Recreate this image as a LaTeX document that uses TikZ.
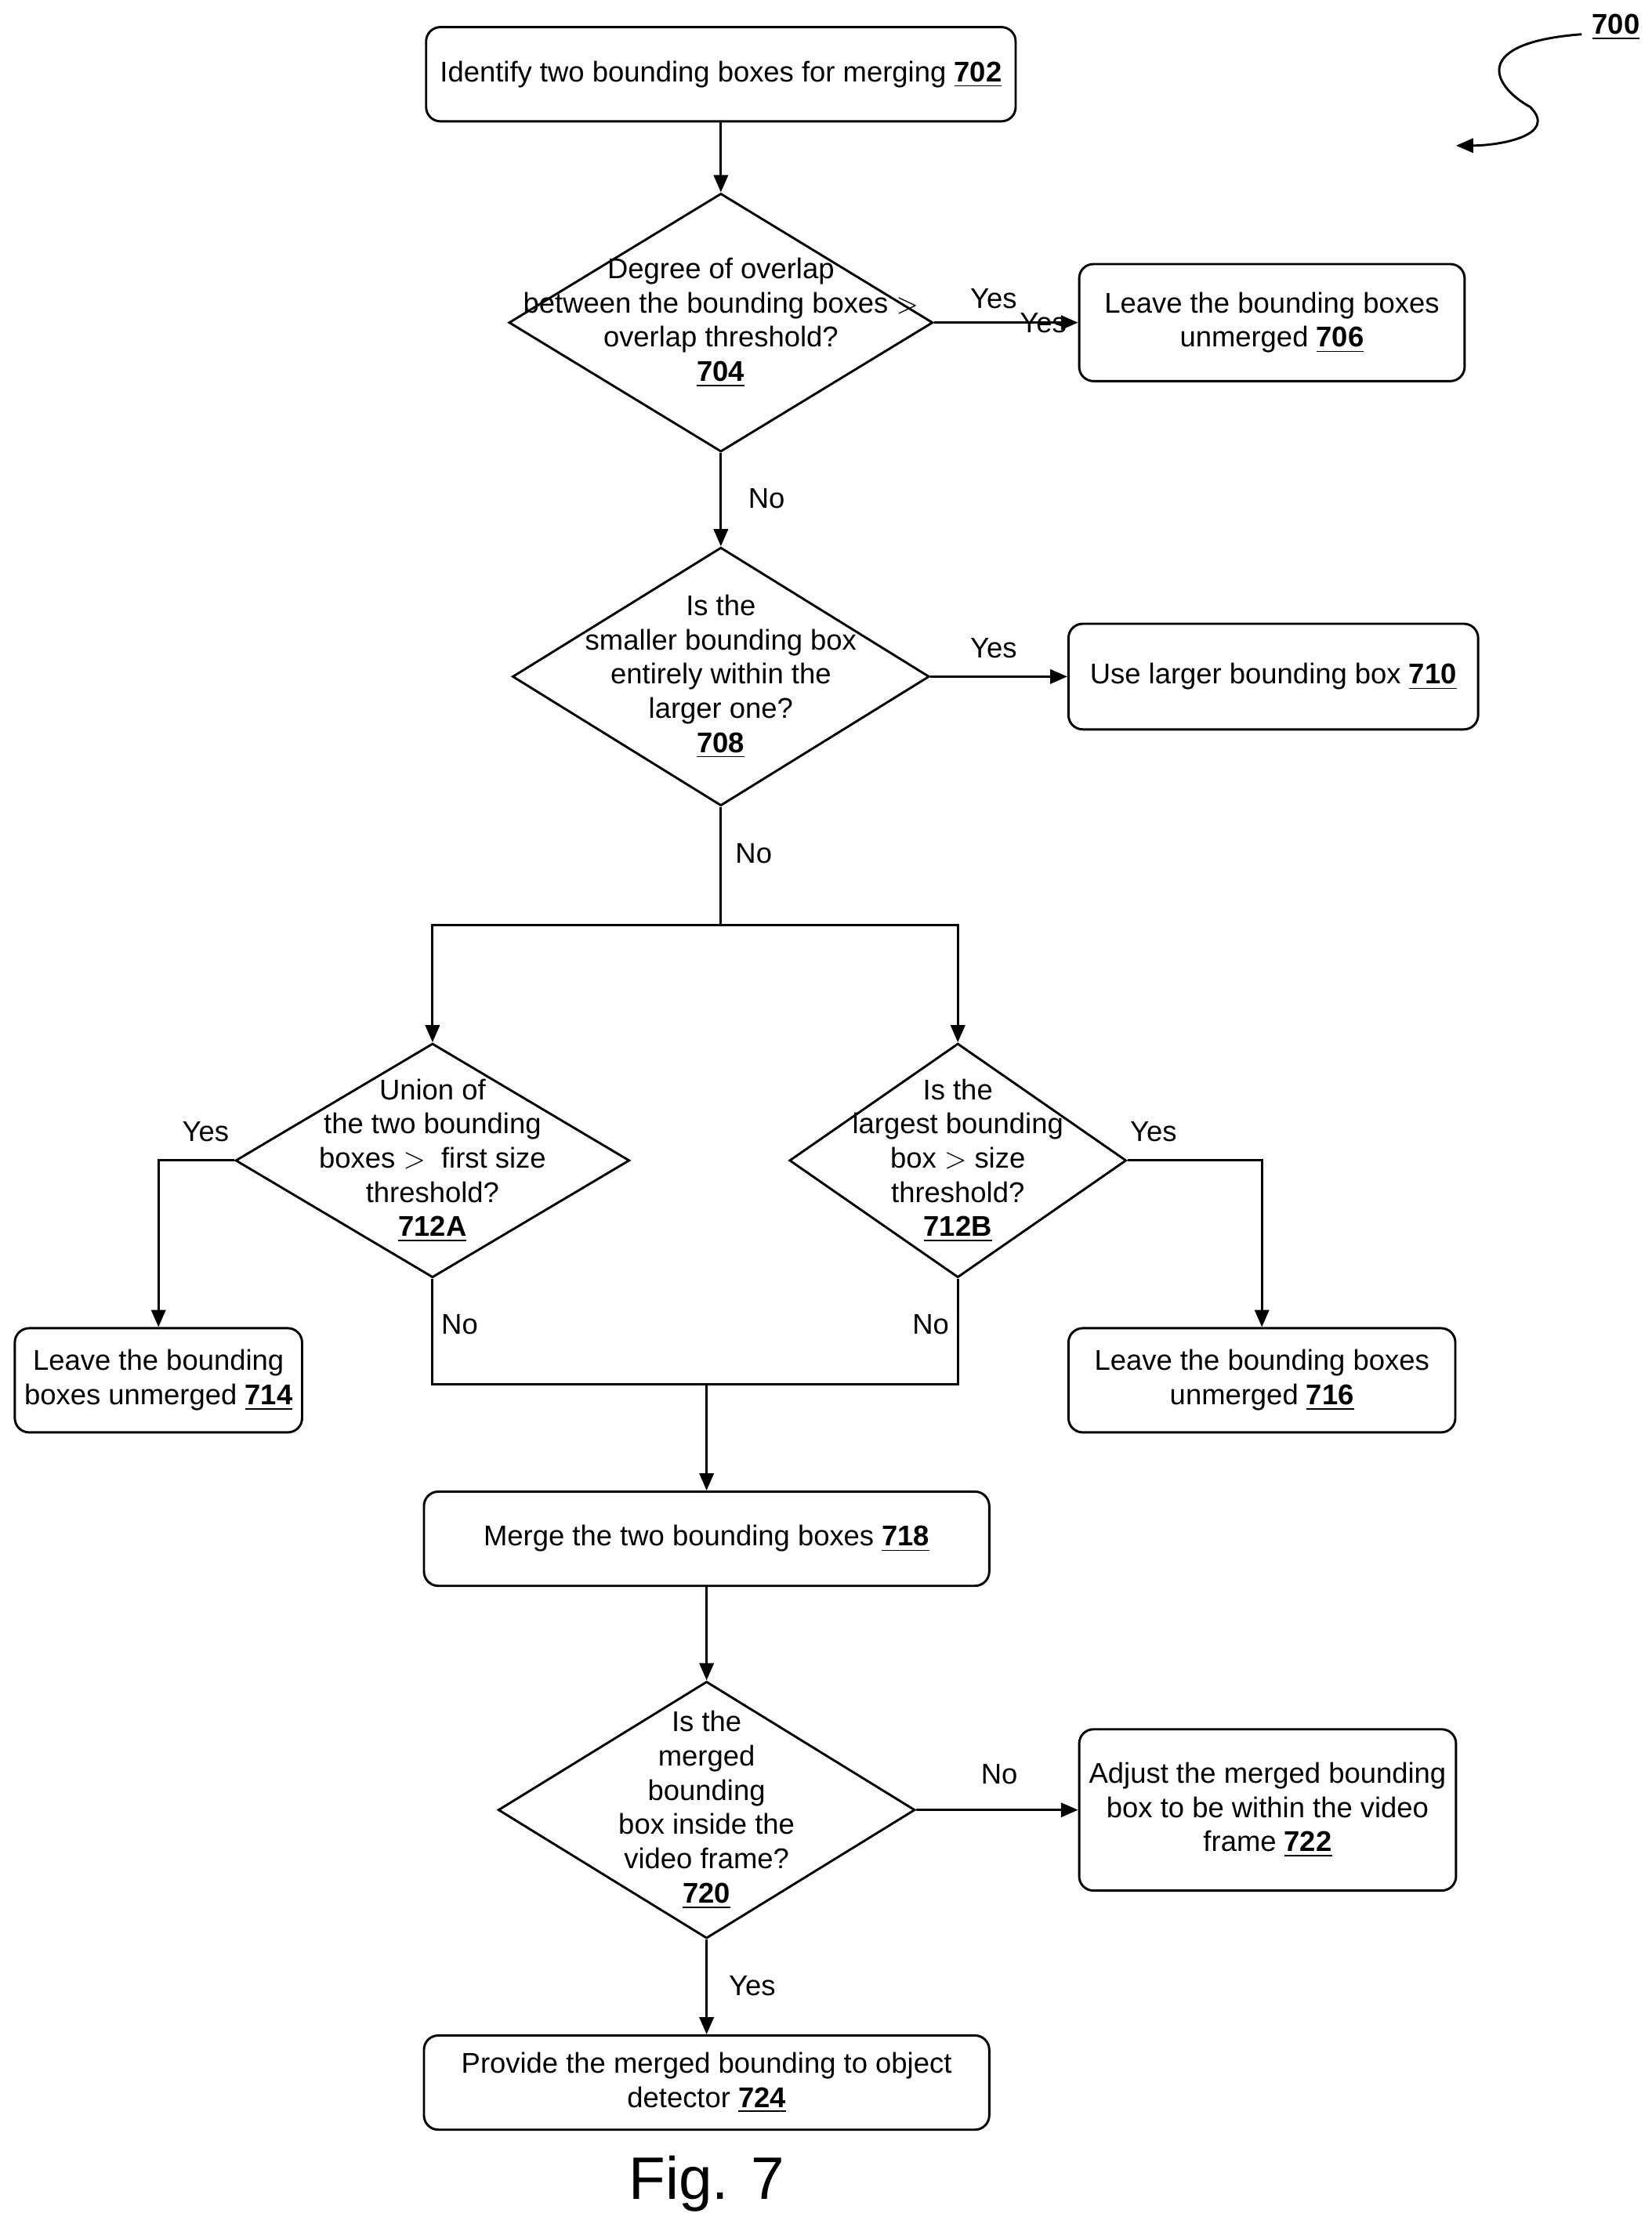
\documentclass[tikz,border=0pt]{standalone}
\usepackage{fontspec}
\setmainfont{Liberation Sans}
\usetikzlibrary{shapes.geometric,arrows.meta}
\newcommand\stepno[1]{\underline{\textbf{#1}}}

\begin{document}
\begin{tikzpicture}[x=0.5pt, y=-0.5pt, line width=0.8pt,
    font=\fontsize{10}{12}\selectfont,
    >={Triangle[length=6pt,width=5pt]},
    box/.style={draw, rounded corners=5pt, align=center},
    dec/.style={draw, diamond, inner sep=0pt},
    lab/.style={inner sep=1pt}]
    \useasboundingbox (0,0) rectangle (1157,1563);
    % Nodes
    \node [box, minimum width=206.5pt, minimum height=33pt] (b702) at (505,52) {Identify two bounding boxes for merging \stepno{702}};
    \node [dec, minimum width=148.5pt, minimum height=90.5pt] (d704) at (505,226) {};
    \node [align=center] at (d704) {Degree of overlap\\between the bounding boxes $>$\\overlap threshold?\\\stepno{704}};
    \node [box, minimum width=135pt, minimum height=41pt] (b706) at (891,226) {Leave the bounding boxes\\unmerged \stepno{706}};
    \node [dec, minimum width=146pt, minimum height=90.5pt] (d708) at (505,474) {};
    \node [align=center] at (d708) {Is the\\smaller bounding box\\entirely within the\\larger one?\\\stepno{708}};
    \node [box, minimum width=143.5pt, minimum height=37pt] (b710) at (892,474) {Use larger bounding box \stepno{710}};
    \node [dec, minimum width=138pt, minimum height=82pt] (d712a) at (303,813) {};
    \node [align=center] at (d712a) {Union of\\the two bounding\\boxes $>$\ \ first size\\threshold?\\\stepno{712A}};
    \node [dec, minimum width=118pt, minimum height=82pt] (d712b) at (671,813) {};
    \node [align=center] at (d712b) {Is the\\largest bounding\\box $>$ size\\threshold?\\\stepno{712B}};
    \node [box, minimum width=99pt, minimum height=36.5pt] (b714) at (111,967) {Leave the bounding\\boxes unmerged \stepno{714}};
    \node [box, minimum width=135.5pt, minimum height=36.5pt] (b716) at (884,967) {Leave the bounding boxes\\unmerged \stepno{716}};
    \node [box, minimum width=198pt, minimum height=33pt] (b718) at (495,1078) {Merge the two bounding boxes \stepno{718}};
    \node [dec, minimum width=146pt, minimum height=90pt] (d720) at (495,1268) {};
    \node [align=center] at (d720) {Is the\\merged\\bounding\\box inside the\\video frame?\\\stepno{720}};
    \node [box, minimum width=132pt, minimum height=56.5pt] (b722) at (888,1268) {Adjust the merged bounding\\box to be within the video\\frame \stepno{722}};
    \node [box, minimum width=198pt, minimum height=33pt] (b724) at (495,1459) {Provide the merged bounding to object\\detector \stepno{724}};
    \node (fig) at (495,1530) {\fontsize{21}{24}\selectfont Fig. 7};
    \node (n700) at (1132,19) {\stepno{700}};
    \coordinate (split) at (505,648);
    \coordinate (join) at (495,970);
    \coordinate (sq1) at (1108,24);
    \coordinate (sq2) at (1020,102);
    % Arrows
    \draw[->] (b702) -- (d704);
    \draw[->] (d704) -- node [lab, right, pos=0.45, xshift=6pt] {Yes} (b706);
    \draw[->] (d704) -- (d708);
    \node [lab] at (537,349) {No};
    \draw[->] (d708) -- (b710);
    \node [lab] at (696,454) {Yes};
    \node [lab] at (696,209) {Yes};
    \draw (d708.south) -- (split);
    \node [lab] at (528,598) {No};
    \draw[->] (split) -| (d712a.north);
    \draw[->] (split) -| (d712b.north);
    \draw[->] (d712a.west) -| (b714.north);
    \node [lab] at (144,793) {Yes};
    \draw[->] (d712b.east) -| (b716.north);
    \node [lab] at (808,793) {Yes};
    \draw (d712a.south) |- (join) -| (d712b.south);
    \node [lab] at (322,928) {No};
    \node [lab] at (652,928) {No};
    \draw[->] (join) -- (b718);
    \draw[->] (b718) -- (d720);
    \draw[->] (d720) -- (b722);
    \node [lab] at (700,1243) {No};
    \draw[->] (d720) -- (b724);
    \node [lab] at (527,1391) {Yes};
    \draw[->] (sq1) .. controls (1030,30) and (1045,60) .. (1072,75) .. controls (1092,95) and (1050,102) .. (sq2);
\end{tikzpicture}
\end{document}
